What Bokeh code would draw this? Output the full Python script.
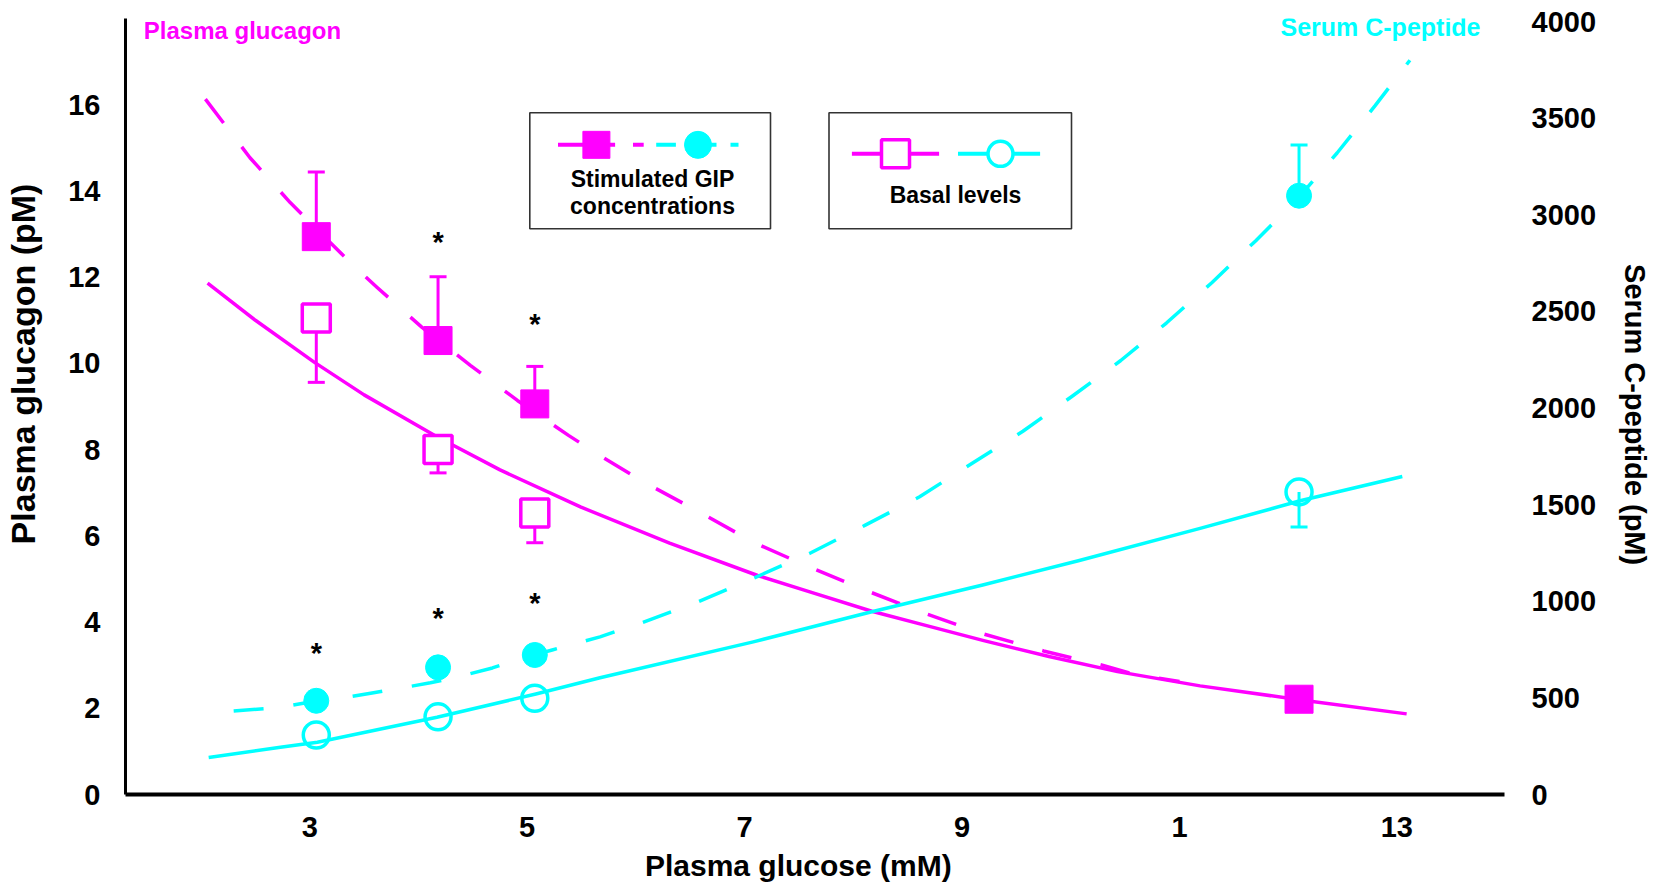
from math import pi
from bokeh.plotting import figure
from bokeh.models import Range1d, LinearAxis, FixedTicker, Label, BoxAnnotation
from bokeh.embed import file_html
from bokeh.resources import INLINE
from bokeh.core.properties import value

# ---------------- data ----------------
x_pts = [3.06, 4.18, 5.07, 12.10]

gluc_stim = [12.94, 10.53, 9.06, 2.21]          # filled squares (pM)
gluc_stim_x_err = [3.06, 4.18, 5.07]
gluc_stim_err_top = [14.44, 12.01, 9.93]

gluc_basal_x = [3.06, 4.18, 5.07]
gluc_basal = [11.05, 8.00, 6.53]                 # open squares (pM)
gluc_basal_err_bot = [9.56, 7.46, 5.84]

cpep_stim = [485, 658, 722, 3099]                # filled circles (pM)
cpep_stim_x_err = [12.10]
cpep_stim_err_top = [3361]

cpep_basal = [308, 402, 498, 1566]               # open circles (pM)
cpep_basal_x_err = [12.10]
cpep_basal_err_bot = [1384]

# fitted curves
fit_gluc_basal_x = [2.06, 2.5, 3.04, 3.5, 4.17, 4.75, 5.49, 6.31, 7.12, 7.6, 8.17, 8.7, 9.20, 9.8, 10.43,
                    11.19, 12.10, 13.09]
fit_gluc_basal_y = [11.86, 11.0, 10.03, 9.27, 8.30, 7.53, 6.67, 5.83, 5.08, 4.70, 4.25, 3.90, 3.57, 3.20, 2.85,
                    2.52, 2.20, 1.87]

fit_gluc_stim_x = [2.04, 2.45, 2.82, 3.40, 3.62, 4.03, 4.48, 4.91, 5.38, 5.67, 6.10, 6.60, 7.09, 7.61,
                   8.13, 8.66, 9.19, 9.75, 10.29, 10.55, 11.0]
fit_gluc_stim_y = [16.13, 14.77, 13.73, 12.27, 11.76, 10.84, 9.95, 9.14, 8.33, 7.86, 7.21, 6.53, 5.84, 5.26,
                   4.72, 4.20, 3.73, 3.33, 3.00, 2.81, 2.62]

fit_cpep_stim_x = [2.30, 2.73, 2.94, 3.28, 3.56, 3.85, 4.11, 4.40, 4.68, 4.95, 5.23, 5.67, 6.04, 6.57, 7.10,
                   7.61, 8.11, 8.61, 9.09, 9.56, 10.01, 10.46, 10.88, 11.30, 11.70, 12.09, 12.45, 12.80, 13.12]
fit_cpep_stim_y = [432, 451, 472, 498, 524, 552, 578, 614, 655, 705, 748, 816, 886, 997, 1124,
                   1251, 1394, 1541, 1713, 1880, 2060, 2246, 2440, 2650, 2865, 3085, 3320, 3565, 3800]

fit_cpep_basal_x = [2.07, 2.73, 3.07, 4.17, 5.08, 5.67, 7.08, 8.17, 9.19, 10.07, 11.19, 12.11, 13.05]
fit_cpep_basal_y = [192, 245, 270, 400, 520, 604, 790, 946, 1084, 1210, 1377, 1520, 1646]

# significance stars
star_gluc_x = [4.18, 5.07]
star_gluc_y = [12.81, 10.91]
star_cpep_x = [3.06, 4.18, 5.07]
star_cpep_y = [734, 911, 989]

x_ticks = [3, 5, 7, 9, 11, 13]
x_tick_labels = {11: "1"}
y_ticks = [0, 2, 4, 6, 8, 10, 12, 14, 16]
y2_ticks = [0, 500, 1000, 1500, 2000, 2500, 3000, 3500, 4000]

# ---------------- layout / style ----------------
MAG = "#FF00FF"
CYA = "#00FFFF"
FONT = "Liberation Sans"
NB = "\u00a0"
W, H = 1661, 884
BL, BR, BT, BB = 125, 157, 18, 89
XR = (1.305, 13.99)
YR = (0, 18)
Y2R = (0, 4016)
FX0, FX1 = BL, W - BR
FY0, FY1 = BT, H - BB


def dx(X):
    return XR[0] + (X - FX0) / (FX1 - FX0) * (XR[1] - XR[0])


def dy(Y):
    return YR[0] + (FY1 - Y) / (FY1 - FY0) * (YR[1] - YR[0])


p = figure(width=W, height=H, output_backend="svg", toolbar_location=None,
           x_range=Range1d(*XR), y_range=Range1d(*YR),
           min_border_left=BL, min_border_right=BR, min_border_top=BT, min_border_bottom=BB)
p.extra_y_ranges = {"cp": Range1d(*Y2R)}
p.grid.visible = False
p.outline_line_color = None
p.background_fill_color = "white"
p.border_fill_color = "white"


def style_axis(ax, standoff, label, label_size, label_standoff):
    ax.major_tick_in = 0
    ax.major_tick_out = 0
    ax.minor_tick_line_color = None
    ax.major_tick_line_color = None
    ax.major_label_standoff = standoff
    ax.major_label_text_font = FONT
    ax.major_label_text_font_style = "bold"
    ax.major_label_text_font_size = "29px"
    ax.major_label_text_color = "black"
    ax.axis_label = label
    ax.axis_label_text_font = FONT
    ax.axis_label_text_font_style = "bold"
    ax.axis_label_text_font_size = label_size
    ax.axis_label_text_color = "black"
    ax.axis_label_standoff = label_standoff


xa = p.xaxis[0]
xa.ticker = FixedTicker(ticks=x_ticks)
xa.major_label_overrides = x_tick_labels
xa.axis_line_width = 4
xa.axis_line_color = "black"
style_axis(xa, 22, "Plasma glucose (mM)" + NB * 4, "30px", 9)

ya = p.yaxis[0]
ya.ticker = FixedTicker(ticks=y_ticks)
ya.axis_line_width = 3
ya.axis_line_color = "black"
style_axis(ya, 25, NB * 9 + "Plasma glucagon (pM)", "34px", 23)

ra = LinearAxis(y_range_name="cp", ticker=FixedTicker(ticks=y2_ticks))
ra.axis_line_color = None
style_axis(ra, 27, NB * 2 + "Serum C-peptide (pM)", "29px", 20)
p.add_layout(ra, "right")

# error bars
CAP = 17
p.segment(x0=gluc_stim_x_err, x1=gluc_stim_x_err, y0=gluc_stim[:3], y1=gluc_stim_err_top, line_color=MAG, line_width=3)
p.scatter(x=gluc_stim_x_err, y=gluc_stim_err_top, marker="dash", size=CAP, line_color=MAG, line_width=3)
p.segment(x0=gluc_basal_x, x1=gluc_basal_x, y0=gluc_basal, y1=gluc_basal_err_bot, line_color=MAG, line_width=3)
p.scatter(x=gluc_basal_x, y=gluc_basal_err_bot, marker="dash", size=CAP, line_color=MAG, line_width=3)
p.segment(x0=cpep_stim_x_err, x1=cpep_stim_x_err, y0=cpep_stim[3:], y1=cpep_stim_err_top, line_color=CYA, line_width=3, y_range_name="cp")
p.scatter(x=cpep_stim_x_err, y=cpep_stim_err_top, marker="dash", size=CAP, line_color=CYA, line_width=3, y_range_name="cp")
p.segment(x0=cpep_basal_x_err, x1=cpep_basal_x_err, y0=cpep_basal[3:], y1=cpep_basal_err_bot, line_color=CYA, line_width=3, y_range_name="cp")
p.scatter(x=cpep_basal_x_err, y=cpep_basal_err_bot, marker="dash", size=CAP, line_color=CYA, line_width=3, y_range_name="cp")

# fitted curves
DASH = "30 30"
p.line(fit_gluc_basal_x, fit_gluc_basal_y, line_color=MAG, line_width=3.5, line_join="round")
p.line(fit_gluc_stim_x, fit_gluc_stim_y, line_color=MAG, line_width=3.5, line_dash=DASH, line_join="round")
p.line(fit_cpep_basal_x, fit_cpep_basal_y, line_color=CYA, line_width=3.5, y_range_name="cp", line_join="round")
p.line(fit_cpep_stim_x, fit_cpep_stim_y, line_color=CYA, line_width=3.5, line_dash=DASH, y_range_name="cp", line_join="round")

# markers
p.scatter(x=x_pts, y=gluc_stim, marker="square", size=28, fill_color=MAG, line_color=MAG, line_width=1)
p.scatter(x=gluc_basal_x, y=gluc_basal, marker="square", size=28, fill_color="white", line_color=MAG, line_width=3.5)
p.scatter(x=x_pts, y=cpep_stim, marker="circle", size=25, fill_color=CYA, line_color=CYA, line_width=1, y_range_name="cp")
p.scatter(x=x_pts, y=cpep_basal, marker="circle", size=26, fill_color="white", fill_alpha=0, line_color=CYA, line_width=3.5, y_range_name="cp")

# significance stars
p.text(x=star_gluc_x, y=star_gluc_y, text=["*"] * len(star_gluc_x), text_font=value(FONT), text_font_style="bold",
       text_font_size="29px", text_align="center", text_baseline="middle", text_color="black")
p.text(x=star_cpep_x, y=star_cpep_y, text=["*"] * len(star_cpep_x), text_font=value(FONT), text_font_style="bold",
       text_font_size="29px", text_align="center", text_baseline="middle", text_color="black", y_range_name="cp")

# legend boxes (drawn manually to match the two-box layout)
for (l, r) in [(529.3, 770), (828.5, 1071)]:
    p.add_layout(BoxAnnotation(left=dx(l), right=dx(r), top=dy(112.3), bottom=dy(228.5),
                               fill_alpha=0, line_color="#333333", line_alpha=1.0, line_width=1.6))
LY1 = 144.5
p.segment(x0=[dx(557.5), dx(632.5)], x1=[dx(614.6), dx(643.2)], y0=[dy(LY1)] * 2, y1=[dy(LY1)] * 2, line_color=MAG, line_width=4)
p.segment(x0=[dx(655.7), dx(690), dx(730)], x1=[dx(675.4), dx(716), dx(738)], y0=[dy(LY1)] * 3, y1=[dy(LY1)] * 3, line_color=CYA, line_width=4)
p.scatter(x=[dx(595.9)], y=[dy(LY1)], marker="square", size=27, fill_color=MAG, line_color=MAG)
p.scatter(x=[dx(697.5)], y=[dy(LY1)], marker="circle", size=27, fill_color=CYA, line_color=CYA)
LY2 = 153.5
p.segment(x0=[dx(851.4)], x1=[dx(938.6)], y0=[dy(LY2)], y1=[dy(LY2)], line_color=MAG, line_width=4)
p.segment(x0=[dx(957.5)], x1=[dx(1039.6)], y0=[dy(LY2)], y1=[dy(LY2)], line_color=CYA, line_width=4)
p.scatter(x=[dx(895)], y=[dy(LY2)], marker="square", size=28, fill_color="white", line_color=MAG, line_width=3.5)
p.scatter(x=[dx(1000)], y=[dy(LY2)], marker="circle", size=25, fill_color="white", line_color=CYA, line_width=3.5)


def lab(text, X, Y, size, color="black", align="center"):
    p.add_layout(Label(x=dx(X), y=dy(Y), text=text, text_font=FONT, text_font_style="bold",
                       text_font_size=size, text_color=color, text_align=align,
                       text_baseline="alphabetic"))


lab("Stimulated GIP", 652, 179, "23px")
lab("concentrations", 652, 205.5, "23px")
lab("Basal levels", 955, 194.5, "23px")

lab("Plasma glucagon", 143.3, 29.8, "24px", MAG, "left")
lab("Serum C-peptide", 1480, 26.5, "25px", CYA, "right")

open("out.html", "w").write(file_html(p, INLINE))
